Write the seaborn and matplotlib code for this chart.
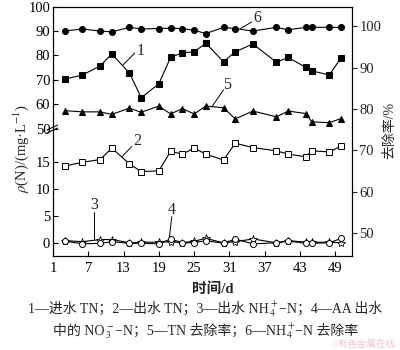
import numpy as np
import matplotlib
matplotlib.use("Agg")
import matplotlib.pyplot as plt
from matplotlib.lines import Line2D
import seaborn as sns

# Sampling days and measured series
days = [3, 6, 9, 11, 14, 16, 19, 21, 23, 25, 27, 30, 32, 35, 39, 41, 44, 45, 48, 50]
tn_in = [70.3, 72.0, 75.7, 80.6, 72.8, 62.7, 68.4, 79.2, 81.1, 81.5,
         85.0, 77.4, 81.5, 84.7, 77.2, 79.2, 75.1, 73.7, 72.0, 79.1]
tn_out = [14.2, 14.9, 15.4, 17.5, 14.6, 13.2, 13.3, 16.9, 16.4, 17.5,
          16.4, 15.3, 18.4, 17.6, 17.0, 16.4, 15.9, 17.0, 16.8, 17.9]
nh4_out = [0.5, 0.3, 0.7, 0.7, 0.1, 0.2, 0.2, 0.3, 0.1, 0.4,
           0.9, 0.1, 0.3, 0.8, 0.1, 0.5, 0.2, 0.2, 0.2, 0.1]
no3_out = [0.4, -0.1, 0.0, 0.3, 0.0, 0.0, -0.1, 0.8, 0.1, 0.1,
           0.5, 0.0, 0.8, -0.1, 0.1, 0.4, 0.0, 0.0, 0.1, 0.9]
tn_removal = [79.6, 79.3, 79.3, 78.7, 80.2, 79.2, 80.7, 78.8, 80.1, 78.8,
              80.7, 80.3, 77.6, 79.5, 78.1, 79.5, 78.9, 76.9, 76.7, 77.7]
nh4_removal = [98.8, 99.3, 98.8, 98.6, 99.7, 99.3, 99.4, 99.5, 99.4, 99.0,
               98.2, 99.7, 99.4, 98.8, 99.7, 99.1, 99.7, 99.7, 99.7, 99.7]

x_ticks = [1, 7, 13, 19, 25, 31, 37, 43, 49]
left_ticks = [0, 5, 10, 15, 50, 60, 70, 80, 90, 100]
right_ticks = [50, 60, 70, 80, 90, 100]

caption_line1 = ["1—进水 TN；2—出水 TN；3—出水 NH", "$_4^+$", "−N；4—AA 出水"]
caption_line2 = ["中的 NO", "$_3^-$", "−N；5—TN 去除率；6—NH", "$_4^+$", "−N 去除率"]

sns.set_style("ticks")
serif_cjk = ["Liberation Serif", "Noto Sans CJK SC"]
plt.rcParams["font.family"] = serif_cjk
plt.rcParams["mathtext.fontset"] = "stix"

W, H = 400, 350

# Broken left axis: 0-20 stretched, 20-50 squeezed, 50-100 compressed
def fwd(v):
    v = np.asarray(v, dtype=float)
    return np.where(v <= 20, 5.44 * v,
                    np.where(v < 50, 108.8 + (v - 20) * (5.8 / 30),
                             114.6 + (v - 50) * 2.443))

def inv(u):
    u = np.asarray(u, dtype=float)
    return np.where(u <= 108.8, u / 5.44,
                    np.where(u < 114.6, 20 + (u - 108.8) * (30 / 5.8),
                             50 + (u - 114.6) / 2.443))

fig = plt.figure(figsize=(4, 3.5), dpi=100)
ax = fig.add_axes([53 / W, 1 - 255.5 / H, (351.7 - 53) / W, (255.5 - 6.6) / H])
ax.set_yscale("function", functions=(fwd, inv))
ax2 = ax.twinx()

lw = 0.8
ms = 4.3
sns.lineplot(x=days, y=tn_in, ax=ax, color="black", lw=lw, marker="s",
             markersize=ms, markerfacecolor="black", markeredgecolor="black")
sns.lineplot(x=days, y=tn_out, ax=ax, color="black", lw=lw, marker="s",
             markersize=ms + 0.3, markerfacecolor="white", markeredgecolor="black",
             markeredgewidth=0.7)
sns.lineplot(x=days, y=nh4_out, ax=ax, color="black", lw=lw, marker="*",
             markersize=ms + 1.8, markerfacecolor="white", markeredgecolor="black",
             markeredgewidth=0.6)
sns.lineplot(x=days, y=no3_out, ax=ax, color="black", lw=lw, marker="o",
             markersize=ms, markerfacecolor="white", markeredgecolor="black",
             markeredgewidth=0.7)
sns.lineplot(x=days, y=tn_removal, ax=ax2, color="black", lw=lw, marker="^",
             markersize=ms, markerfacecolor="black", markeredgecolor="black")
sns.lineplot(x=days, y=nh4_removal, ax=ax2, color="black", lw=lw, marker="o",
             markersize=ms, markerfacecolor="black", markeredgecolor="black")

ax.set_xlim(1, 51.8)
ax.set_ylim(-2.24, 100)
ax2.set_ylim(44.65, 104.7)
ax.set_xticks(x_ticks)
ax.set_yticks(left_ticks)
ax.set_yticklabels([str(t) for t in left_ticks])
ax2.set_yticks(right_ticks)
ax.set_xlabel("")
ax.set_ylabel("")
ax2.set_ylabel("")

fs = 10.5
ax.tick_params(axis="both", direction="in", length=3.5, width=0.8,
               labelsize=fs, colors="black")
ax.tick_params(axis="x", pad=5)
ax.tick_params(axis="y", pad=2)
ax2.tick_params(axis="y", direction="out", length=3.5, width=0.8,
                labelsize=fs, pad=2)
for a in (ax, ax2):
    for s in a.spines.values():
        s.set_visible(True)
        s.set_linewidth(0.8)
        s.set_color("black")

# Break marks on the left spine
for dy in (0.0, 0.012):
    ax.add_line(Line2D([-0.02, 0.015], [0.492 + dy, 0.512 + dy],
                       transform=ax.transAxes, color="black", lw=0.8,
                       clip_on=False))

# Curve labels with leader lines
def tag(a, text, tx, ty, x0, y0, x1, y1):
    a.text(tx, ty, text, fontsize=fs + 1, ha="left", va="center",
           family="Liberation Serif")
    a.plot([x0, x1], [y0, y1], color="black", lw=0.7)

tag(ax, "1", 15.3, 81.8, 14.9, 81.0, 12.9, 76.1)
tag(ax, "2", 14.6, 18.9, 14.4, 17.8, 12.7, 15.9)
ax.text(8.0, 7.0, "3", fontsize=fs + 1, ha="center", va="center",
        family="Liberation Serif")
ax.plot([8.0, 8.0], [5.8, 0.6], color="black", lw=0.7)
ax.text(21.2, 6.1, "4", fontsize=fs + 1, ha="center", va="center",
        family="Liberation Serif")
ax.plot([21.2, 20.8], [4.9, 1.2], color="black", lw=0.7)
tag(ax2, "5", 29.9, 85.8, 30.0, 84.6, 28.0, 80.5)
tag(ax2, "6", 35.0, 101.9, 34.8, 101.0, 32.9, 99.4)

# Axis titles
fig.text(21 / W, 1 - 148 / H, r"$\rho$(N)/(mg·L$^{-1}$)", rotation=90,
         ha="center", va="center", fontsize=fs, family=serif_cjk)
fig.text(390 / W, 1 - 130 / H, "去除率/%", rotation=90,
         ha="center", va="center", fontsize=fs - 0.5, family=serif_cjk)
fig.text(213 / W, 1 - 289 / H, "时间/d", ha="center", va="center",
         fontsize=fs, fontweight="bold", family=serif_cjk)

# Caption: plain runs and math runs laid out side by side, centred as a line
renderer = fig.canvas.get_renderer()

def caption(segments, xc_px, base_px, size):
    items = []
    for seg in segments:
        t = fig.text(0, 1 - base_px / H, seg, ha="left", va="baseline",
                     fontsize=size, family=serif_cjk)
        items.append(t)
    widths = [t.get_window_extent(renderer).width for t in items]
    x = xc_px - sum(widths) / 2
    for t, w in zip(items, widths):
        t.set_x(x / W)
        x += w

cap_fs = 10.0
caption(caption_line1, 205, 313, cap_fs)
caption(caption_line2, 206, 335, cap_fs)
fig.text(396 / W, 1 - 344.5 / H, "©有色金属在线", ha="right", va="center",
         fontsize=6.8, color="#e8a0a8", alpha=0.6, family=serif_cjk)

fig.savefig("out.png", dpi=100)
